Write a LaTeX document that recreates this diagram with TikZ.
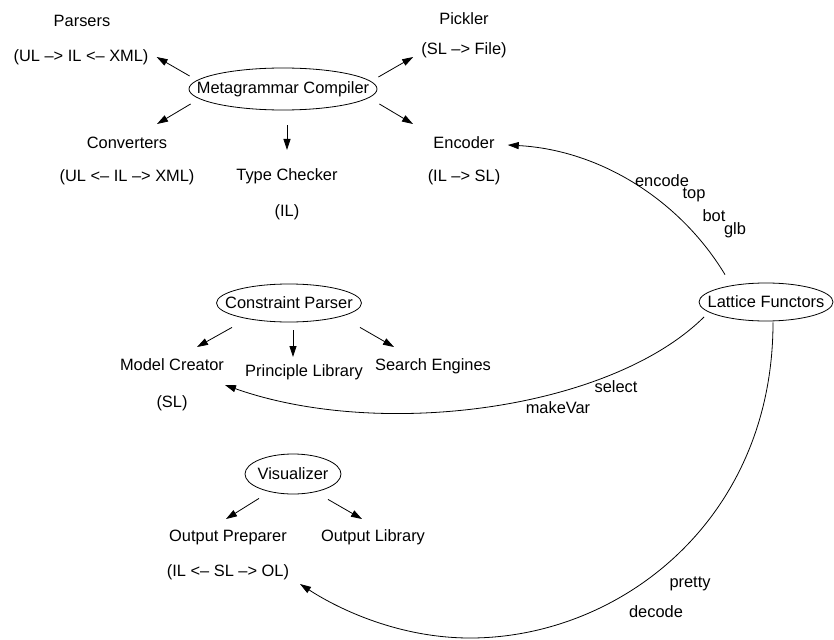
\documentclass[tikz,border=0pt]{standalone}
\usepackage{fontspec}
\setmainfont{Liberation Sans}
\usetikzlibrary{arrows.meta,shapes.geometric}
\begin{document}
\begin{tikzpicture}[x=1pt,y=-1pt,
  every node/.style={inner sep=0pt,font=\fontsize{16.4pt}{19pt}\selectfont},
  oval/.style={draw,ellipse,line width=0.8pt},
  arr/.style={-{Triangle[length=11pt,width=7pt]},line width=0.8pt},
  lbl/.style={}]
\useasboundingbox (0,0) rectangle (834,639);
% Metagrammar Compiler group
\node[oval,minimum width=188pt,minimum height=42pt] (mc) at (283,89) {\makebox[0pt]{Metagrammar Compiler}};
\node (pars) at (82,21) {Parsers};
\node (parsig) at (81,57) {(UL --> IL <-- XML)};
\node (pick) at (464,19) {Pickler};
\node (picksig) at (464,50) {(SL --> File)};
\node (conv) at (127,143) {Converters};
\node (convsig) at (127,177) {(UL <-- IL --> XML)};
\node (tc) at (287,176) {Type Checker};
\node (tcsig) at (287,212) {(IL)};
\node (enc) at (464,143) {Encoder};
\node (encsig) at (464,177) {(IL --> SL)};
\draw[arr] ([shift={(1,-13)}]mc.west) -- ([xshift=8pt]parsig.east);
\draw[arr] ([shift={(2,15)}]mc.west) -- ([shift={(30,-19)}]conv.center);
\draw[arr] ([shift={(4,15)}]mc.south) -- ([yshift=26pt]tc.center);
\draw[arr] ([shift={(1,-12)}]mc.east) -- ([shift={(-8,7)}]picksig.west);
\draw[arr] ([shift={(2,15)}]mc.east) -- ([shift={(-51,-19)}]enc.center);
% Lattice Functors
\node[oval,minimum width=134pt,minimum height=38pt] (lf) at (766,302) {\makebox[0pt]{Lattice Functors}};
\draw[arr] ([shift={(-41,-8)}]lf.north) .. controls (680,200) and (600,150) .. ([shift={(13,2)}]enc.east);
\node (l1) at (662,181) {encode};
\node (l2) at (694,195) {top};
\node (l3) at (714,216) {bot};
\node (l4) at (735,230) {glb};
% Constraint Parser group
\node[oval,minimum width=145pt,minimum height=38pt] (cp) at (289,303) {\makebox[0pt]{Constraint Parser}};
\node (mcr) at (172,365) {Model Creator};
\node (mcrsig) at (172,403) {(SL)};
\node (pl) at (304,372) {Principle Library};
\node (se) at (433,366) {Search Engines};
\draw[arr] ([shift={(-57,5)}]cp.south) -- ([shift={(25,-18)}]mcr.center);
\draw[arr] ([shift={(4,8)}]cp.south) -- ([shift={(-11,-15)}]pl.center);
\draw[arr] ([shift={(71,5)}]cp.south) -- ([shift={(-39,-19)}]se.center);
\draw[arr] ([shift={(-62,15)}]lf.center) .. controls (610,410) and (380,440) .. ([shift={(53,20)}]mcr.center);
\node (l5) at (616,387) {select};
\node (l6) at (558,408) {makeVar};
% Visualizer group
\node[oval,minimum width=96pt,minimum height=40pt] (vis) at (293,474) {\makebox[0pt]{Visualizer}};
\node (op) at (228,537) {Output Preparer};
\node (opsig) at (228,572) {(IL <-- SL --> OL)};
\node (ol) at (373,537) {Output Library};
\draw[arr] ([shift={(-34,4)}]vis.south) -- ([shift={(-2,-18)}]op.center);
\draw[arr] ([shift={(35,5)}]vis.south) -- ([shift={(-11,-18)}]ol.center);
\draw[arr] ([shift={(7,1)}]lf.south) .. controls (773,520) and (620,638) .. (470,638)
  .. controls (400,638) and (340,610) .. ([shift={(72,12)}]opsig.center);
\node (l7) at (690,584) {pretty};
\node (l8) at (656,612) {decode};
\end{tikzpicture}
\end{document}
